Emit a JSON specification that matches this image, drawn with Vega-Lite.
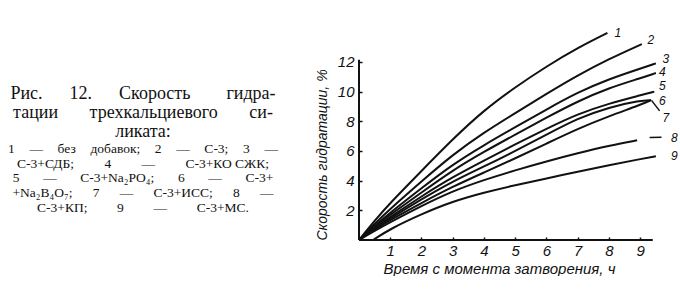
{
  "$schema": "https://vega.github.io/schema/vega-lite/v6.json",
  "background": "white",
  "padding": {"left": 8, "top": 24, "right": 0, "bottom": 0},
  "bounds": "flush",
  "spacing": 85,
  "config": {
    "view": {"stroke": null},
    "axis": {
      "grid": false,
      "domain": false,
      "labelFont": "Liberation Sans",
      "labelFontStyle": "italic",
      "labelFontSize": 15,
      "labelColor": "#111",
      "titleFont": "Liberation Sans",
      "titleFontStyle": "italic",
      "titleFontWeight": "normal",
      "titleFontSize": 15,
      "titleColor": "#111",
      "tickColor": "#111",
      "tickWidth": 1.5
    }
  },
  "datasets": {
    "caption_title": [
      {"line": 1, "text": "Рис.\u2003\u00a0\u00a012.\u2003\u00a0\u00a0Скорость\u2003\u2002\u00a0\u00a0гидра-"},
      {"line": 2, "text": "тации\u2003\u2002\u00a0трехкальциевого\u2003\u2002\u00a0си-"},
      {"line": 3, "text": "ликата:"}
    ],
    "caption_legend": [
      {"line": 1, "text": "1\u2003\u200a—\u2003\u200aбез\u2003\u200aдобавок;\u2003\u200a2\u2003\u200a—\u2003\u200aС-3;\u2003\u200a3\u2003\u200a—"},
      {"line": 2, "text": "С-3+СДБ;\u2003\u2003\u20054\u2003\u2003\u2005—\u2003\u2003\u2005С-3+КО СЖК;"},
      {"line": 3, "text": "5\u2003\u2002\u2005—\u2003\u2002\u2005С-3+Na₂PO₄;\u2003\u2002\u20056\u2003\u2002\u2005—\u2003\u2002\u2005С-3+"},
      {"line": 4, "text": "+Na₂B₄O₇;\u2003\u20027\u2003\u2002—\u2003\u2002С-3+ИСС;\u2003\u20028\u2003\u2002—"},
      {"line": 5, "text": "С-3+КП;\u2003\u2003\u20099\u2003\u2003\u2009—\u2003\u2003\u2009С-3+МС."}
    ],
    "curves": [
      {"curve": "1", "x": 0, "y": 0}, {"curve": "1", "x": 0.5, "y": 1.3}, {"curve": "1", "x": 1, "y": 2.5}, {"curve": "1", "x": 2, "y": 4.65}, {"curve": "1", "x": 3, "y": 6.8}, {"curve": "1", "x": 4, "y": 8.75}, {"curve": "1", "x": 5, "y": 10.3}, {"curve": "1", "x": 6, "y": 11.7}, {"curve": "1", "x": 7, "y": 12.95}, {"curve": "1", "x": 7.95, "y": 13.95},
      {"curve": "2", "x": 0, "y": 0}, {"curve": "2", "x": 0.5, "y": 1.1}, {"curve": "2", "x": 1, "y": 2.1}, {"curve": "2", "x": 2, "y": 3.95}, {"curve": "2", "x": 3, "y": 5.75}, {"curve": "2", "x": 4, "y": 7.25}, {"curve": "2", "x": 5, "y": 8.55}, {"curve": "2", "x": 6, "y": 9.85}, {"curve": "2", "x": 7, "y": 11.1}, {"curve": "2", "x": 8, "y": 12.2}, {"curve": "2", "x": 9.05, "y": 13.2},
      {"curve": "3", "x": 0, "y": 0}, {"curve": "3", "x": 0.5, "y": 0.95}, {"curve": "3", "x": 1, "y": 1.85}, {"curve": "3", "x": 2, "y": 3.5}, {"curve": "3", "x": 3, "y": 5.1}, {"curve": "3", "x": 4, "y": 6.4}, {"curve": "3", "x": 5, "y": 7.6}, {"curve": "3", "x": 6, "y": 8.8}, {"curve": "3", "x": 7, "y": 9.95}, {"curve": "3", "x": 8, "y": 10.85}, {"curve": "3", "x": 9, "y": 11.55}, {"curve": "3", "x": 9.5, "y": 11.9},
      {"curve": "4", "x": 0, "y": 0}, {"curve": "4", "x": 0.5, "y": 0.9}, {"curve": "4", "x": 1, "y": 1.7}, {"curve": "4", "x": 2, "y": 3.2}, {"curve": "4", "x": 3, "y": 4.7}, {"curve": "4", "x": 4, "y": 5.95}, {"curve": "4", "x": 5, "y": 7.1}, {"curve": "4", "x": 6, "y": 8.25}, {"curve": "4", "x": 7, "y": 9.35}, {"curve": "4", "x": 8, "y": 10.25}, {"curve": "4", "x": 9, "y": 10.9}, {"curve": "4", "x": 9.5, "y": 11.25},
      {"curve": "5", "x": 0, "y": 0}, {"curve": "5", "x": 0.5, "y": 0.8}, {"curve": "5", "x": 1, "y": 1.55}, {"curve": "5", "x": 2, "y": 2.95}, {"curve": "5", "x": 3, "y": 4.25}, {"curve": "5", "x": 4, "y": 5.35}, {"curve": "5", "x": 5, "y": 6.45}, {"curve": "5", "x": 6, "y": 7.5}, {"curve": "5", "x": 7, "y": 8.5}, {"curve": "5", "x": 8, "y": 9.2}, {"curve": "5", "x": 9, "y": 9.75}, {"curve": "5", "x": 9.45, "y": 10.0},
      {"curve": "6", "x": 0, "y": 0}, {"curve": "6", "x": 0.5, "y": 0.75}, {"curve": "6", "x": 1, "y": 1.45}, {"curve": "6", "x": 2, "y": 2.75}, {"curve": "6", "x": 3, "y": 3.95}, {"curve": "6", "x": 4, "y": 4.95}, {"curve": "6", "x": 5, "y": 6.0}, {"curve": "6", "x": 6, "y": 7.1}, {"curve": "6", "x": 7, "y": 8.2}, {"curve": "6", "x": 8, "y": 8.95}, {"curve": "6", "x": 9, "y": 9.4}, {"curve": "6", "x": 9.35, "y": 9.42},
      {"curve": "7", "x": 0, "y": 0}, {"curve": "7", "x": 0.5, "y": 0.7}, {"curve": "7", "x": 1, "y": 1.35}, {"curve": "7", "x": 2, "y": 2.5}, {"curve": "7", "x": 3, "y": 3.6}, {"curve": "7", "x": 4, "y": 4.55}, {"curve": "7", "x": 5, "y": 5.5}, {"curve": "7", "x": 6, "y": 6.5}, {"curve": "7", "x": 7, "y": 7.5}, {"curve": "7", "x": 8, "y": 8.35}, {"curve": "7", "x": 9, "y": 9.1}, {"curve": "7", "x": 9.34, "y": 9.42},
      {"curve": "8", "x": 0, "y": 0}, {"curve": "8", "x": 0.5, "y": 0.62}, {"curve": "8", "x": 1, "y": 1.2}, {"curve": "8", "x": 2, "y": 2.3}, {"curve": "8", "x": 3, "y": 3.3}, {"curve": "8", "x": 4, "y": 4.05}, {"curve": "8", "x": 5, "y": 4.7}, {"curve": "8", "x": 6, "y": 5.3}, {"curve": "8", "x": 7, "y": 5.85}, {"curve": "8", "x": 8, "y": 6.35}, {"curve": "8", "x": 8.9, "y": 6.72},
      {"curve": "9", "x": 0.45, "y": 0}, {"curve": "9", "x": 1, "y": 0.75}, {"curve": "9", "x": 2, "y": 1.75}, {"curve": "9", "x": 3, "y": 2.6}, {"curve": "9", "x": 4, "y": 3.2}, {"curve": "9", "x": 5, "y": 3.7}, {"curve": "9", "x": 6, "y": 4.15}, {"curve": "9", "x": 7, "y": 4.6}, {"curve": "9", "x": 8, "y": 5.05}, {"curve": "9", "x": 9, "y": 5.45}, {"curve": "9", "x": 9.5, "y": 5.65}
    ],
    "leaders": [
      {"leader": "7", "x": 9.36, "y": 9.41}, {"leader": "7", "x": 9.62, "y": 8.7},
      {"leader": "8", "x": 9.3, "y": 6.9}, {"leader": "8", "x": 9.68, "y": 6.93}
    ],
    "axislines": [
      {"x": 0, "y": 0, "x2": 9.4, "y2": 0},
      {"x": 0, "y": 0, "x2": 0, "y2": 12.15}
    ],
    "labels": [
      {"label": "1", "x": 8.28, "y": 13.95},
      {"label": "2", "x": 9.34, "y": 13.5},
      {"label": "3", "x": 9.82, "y": 12.2},
      {"label": "4", "x": 9.71, "y": 11.3},
      {"label": "5", "x": 9.71, "y": 10.35},
      {"label": "6", "x": 9.71, "y": 9.4},
      {"label": "7", "x": 9.82, "y": 8.23},
      {"label": "8", "x": 10.09, "y": 6.88},
      {"label": "9", "x": 10.09, "y": 5.64}
    ]
  },
  "hconcat": [
    {
      "width": 262,
      "height": 216,
      "layer": [
        {
          "data": {"name": "caption_title"},
          "mark": {"type": "text", "font": "Liberation Serif", "fontSize": 18, "color": "#111", "baseline": "middle", "align": "center"},
          "encoding": {
            "x": {"datum": 0, "type": "quantitative", "scale": {"domain": [-1, 1]}, "axis": null},
            "y": {"field": "line", "type": "quantitative", "scale": {"domain": [-2.78, 8.83], "reverse": true}, "axis": null},
            "text": {"field": "text"}
          }
        },
        {
          "data": {"name": "caption_legend"},
          "mark": {"type": "text", "font": "Liberation Serif", "fontSize": 13.5, "color": "#111", "baseline": "middle", "align": "center"},
          "encoding": {
            "x": {"datum": 0, "type": "quantitative", "scale": {"domain": [-1, 1]}, "axis": null},
            "y": {"field": "line", "type": "quantitative", "scale": {"domain": [-7.4, 7.145], "reverse": true}, "axis": null},
            "text": {"field": "text"}
          }
        }
      ],
      "resolve": {"scale": {"y": "independent"}}
    },
    {
      "width": 325,
      "height": 216,
      "layer": [
        {
          "data": {"name": "curves"},
          "mark": {"type": "line", "interpolate": "basis", "strokeWidth": 2, "color": "#111"},
          "encoding": {
            "x": {
              "field": "x", "type": "quantitative",
              "scale": {"domain": [0, 10.4], "nice": false, "zero": false},
              "axis": {"values": [1, 2, 3, 4, 5, 6, 7, 8, 9], "title": "Время с момента затворения, ч", "tickSize": -3, "labelPadding": 6, "titlePadding": 3, "titleX": 140}
            },
            "y": {
              "field": "y", "type": "quantitative",
              "scale": {"domain": [0, 14.555], "nice": false, "zero": false},
              "axis": {"values": [2, 4, 6, 8, 10, 12], "title": "Скорость гидратации, %", "titleFontSize": 14, "tickSize": -3, "labelPadding": 8, "titlePadding": 8, "titleAnchor": "start"}
            },
            "detail": {"field": "curve"}
          }
        },
        {
          "data": {"name": "leaders"},
          "mark": {"type": "line", "strokeWidth": 1.5, "color": "#111"},
          "encoding": {
            "x": {"field": "x", "type": "quantitative"},
            "y": {"field": "y", "type": "quantitative"},
            "detail": {"field": "leader"}
          }
        },
        {
          "data": {"name": "axislines"},
          "mark": {"type": "rule", "strokeWidth": 2, "color": "#111"},
          "encoding": {
            "x": {"field": "x", "type": "quantitative"},
            "y": {"field": "y", "type": "quantitative"},
            "x2": {"field": "x2"},
            "y2": {"field": "y2"}
          }
        },
        {
          "data": {"name": "labels"},
          "mark": {"type": "text", "font": "Liberation Sans", "fontStyle": "italic", "fontSize": 12, "color": "#111", "baseline": "middle", "align": "center"},
          "encoding": {
            "x": {"field": "x", "type": "quantitative"},
            "y": {"field": "y", "type": "quantitative"},
            "text": {"field": "label"}
          }
        }
      ]
    }
  ]
}
